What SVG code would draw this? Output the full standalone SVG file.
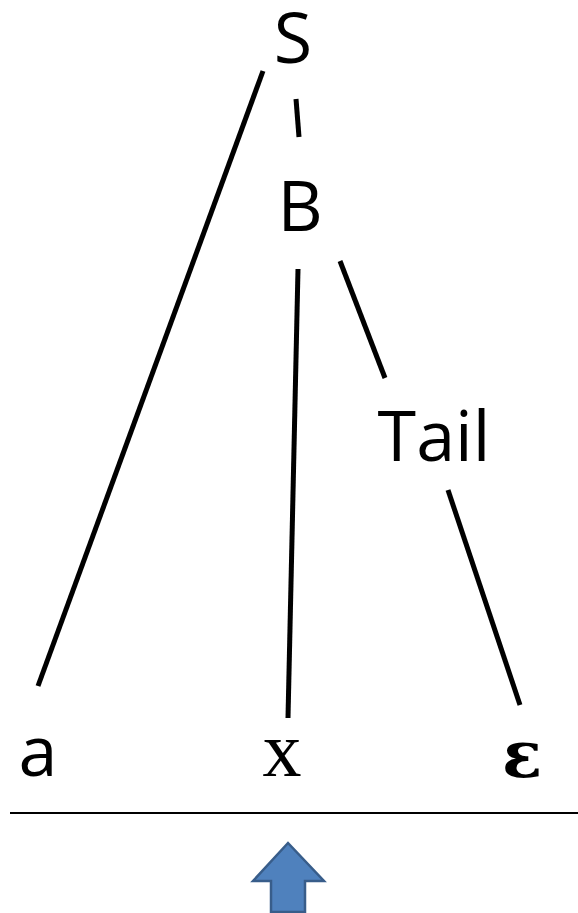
<svg xmlns="http://www.w3.org/2000/svg" width="578" height="913" viewBox="0 0 578 913">
<style>
.t{font-family:"Open Sans","Noto Sans",sans-serif;font-size:70px;fill:#000;text-anchor:middle}
.e{stroke:#000;stroke-width:5;fill:none}
</style>
<rect width="578" height="913" fill="#fff"/>
<g id="connectors">
<line class="e" x1="263" y1="71" x2="38" y2="686"/>
<line class="e" x1="296" y1="99" x2="299" y2="137"/>
<line class="e" x1="298" y1="269" x2="288" y2="718"/>
<line class="e" x1="340" y1="261" x2="385" y2="378"/>
<line class="e" x1="448" y1="490" x2="520" y2="705"/>
</g>
<g id="node-S"><text class="t" x="293" y="63">S</text></g>
<g id="node-B"><text class="t" x="300" y="231">B</text></g>
<g id="node-Tail"><text class="t" x="434" y="461">Tail</text></g>
<g id="node-a"><text class="t" x="38" y="776">a</text></g>
<g id="node-x"><text x="282" y="776" style="font-family:'Liberation Serif','Times New Roman',serif;font-size:78px;text-anchor:middle">x</text></g>
<g id="node-eps"><text x="522" y="777" style="font-family:'DejaVu Serif','Liberation Serif',serif;font-size:66px;font-weight:bold;text-anchor:middle">ε</text></g>
<g id="baseline"><line x1="10" y1="813" x2="578" y2="813" stroke="#000" stroke-width="2"/></g>
<g id="pointer"><polygon points="288,843 253,881 271,881 271,912 305,912 305,881 324,881" fill="#4F81BD" stroke="#385D8A" stroke-width="2.5"/></g>
</svg>
